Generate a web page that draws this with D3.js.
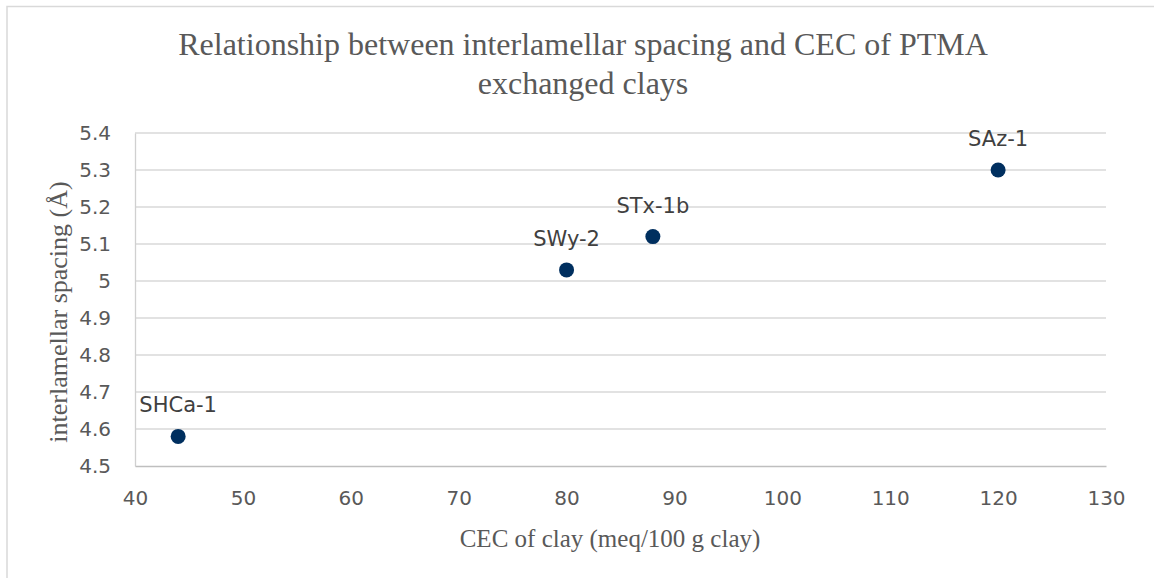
<!DOCTYPE html>
<html>
<head>
<meta charset="utf-8">
<script src="https://cdn.jsdelivr.net/npm/d3@7"></script>
<style>
  html, body { margin: 0; padding: 0; background: #ffffff; }
  svg { display: block; }
</style>
</head>
<body>
<script>
// Clay samples: cation exchange capacity vs. interlamellar spacing
const clayNames = ["SHCa-1", "SWy-2", "STx-1b", "SAz-1"];
const cecValues = [44, 80, 88, 120];
const spacingValues = [4.58, 5.03, 5.12, 5.30];

const xTicks = [40, 50, 60, 70, 80, 90, 100, 110, 120, 130];
const yTicks = [4.5, 4.6, 4.7, 4.8, 4.9, 5.0, 5.1, 5.2, 5.3, 5.4];

const titleLines = ["Relationship between interlamellar spacing and CEC of PTMA", "exchanged clays"];
const xTitle = "CEC of clay (meq/100 g clay)";
const yTitle = "interlamellar spacing (Å)";

const W = 1154, H = 578;
const plot = { left: 135, right: 1106, top: 133, bottom: 466 };
const sansFont = "'DejaVu Sans', sans-serif";
const serifFont = "'Liberation Serif', 'Times New Roman', serif";

const svg = d3.select("body").append("svg")
  .attr("width", W).attr("height", H);

// chart frame
svg.append("rect")
  .attr("x", 7).attr("y", 6.5)
  .attr("width", W + 10).attr("height", H + 10)
  .attr("fill", "#ffffff").attr("stroke", "#d9d9d9").attr("stroke-width", 1.5);

const x = d3.scaleLinear().domain([40, 130]).range([plot.left, plot.right]);
const y = d3.scaleLinear().domain([4.5, 5.4]).range([plot.bottom, plot.top]);

// horizontal gridlines
svg.append("g")
  .selectAll("line")
  .data(yTicks.filter(d => d > 4.5))
  .join("line")
  .attr("x1", plot.left).attr("x2", plot.right)
  .attr("y1", d => y(d)).attr("y2", d => y(d))
  .attr("stroke", "#d9d9d9").attr("stroke-width", 1.3);

// y axis
const yAxis = svg.append("g")
  .attr("transform", `translate(${plot.left},0)`)
  .call(d3.axisLeft(y).tickValues(yTicks).tickSize(0).tickPadding(24)
    .tickFormat(d => d3.format("")(+d.toFixed(1))));
yAxis.select(".domain").attr("stroke", "#d0d0d0").attr("stroke-width", 1.3);
yAxis.selectAll("text")
  .attr("font-family", sansFont).attr("font-size", 20)
  .attr("fill", "#595959");

// x axis
const xAxis = svg.append("g")
  .attr("transform", `translate(0,${plot.bottom})`)
  .call(d3.axisBottom(x).tickValues(xTicks).tickSize(0).tickPadding(25));
xAxis.select(".domain").attr("stroke", "#bfbfbf").attr("stroke-width", 1.5);
xAxis.selectAll("text")
  .attr("font-family", sansFont).attr("font-size", 20)
  .attr("fill", "#595959");

// title
svg.append("text")
  .attr("x", 583).attr("y", 55)
  .attr("text-anchor", "middle")
  .attr("font-family", serifFont).attr("font-size", 32)
  .attr("fill", "#595959")
  .selectAll("tspan")
  .data(titleLines)
  .join("tspan")
  .attr("x", 583)
  .attr("dy", (d, i) => i === 0 ? 0 : 39)
  .text(d => d);

// axis titles
svg.append("text")
  .attr("x", 610).attr("y", 547)
  .attr("text-anchor", "middle")
  .attr("font-family", serifFont).attr("font-size", 25)
  .attr("fill", "#595959")
  .text(xTitle);

svg.append("text")
  .attr("transform", "translate(67,312) rotate(-90)")
  .attr("text-anchor", "middle")
  .attr("font-family", serifFont).attr("font-size", 26)
  .attr("fill", "#595959")
  .text(yTitle);

// points and labels
const pts = clayNames.map((n, i) => ({ name: n, cec: cecValues[i], d: spacingValues[i] }));

svg.append("g")
  .selectAll("circle")
  .data(pts)
  .join("circle")
  .attr("cx", d => x(d.cec)).attr("cy", d => y(d.d))
  .attr("r", 7.5)
  .attr("fill", "#002f5f");

svg.append("g")
  .selectAll("text")
  .data(pts)
  .join("text")
  .attr("x", d => x(d.cec)).attr("y", d => y(d.d) - 24)
  .attr("text-anchor", "middle")
  .attr("font-family", sansFont).attr("font-size", 21)
  .attr("fill", "#404040")
  .text(d => d.name);
</script>
</body>
</html>
